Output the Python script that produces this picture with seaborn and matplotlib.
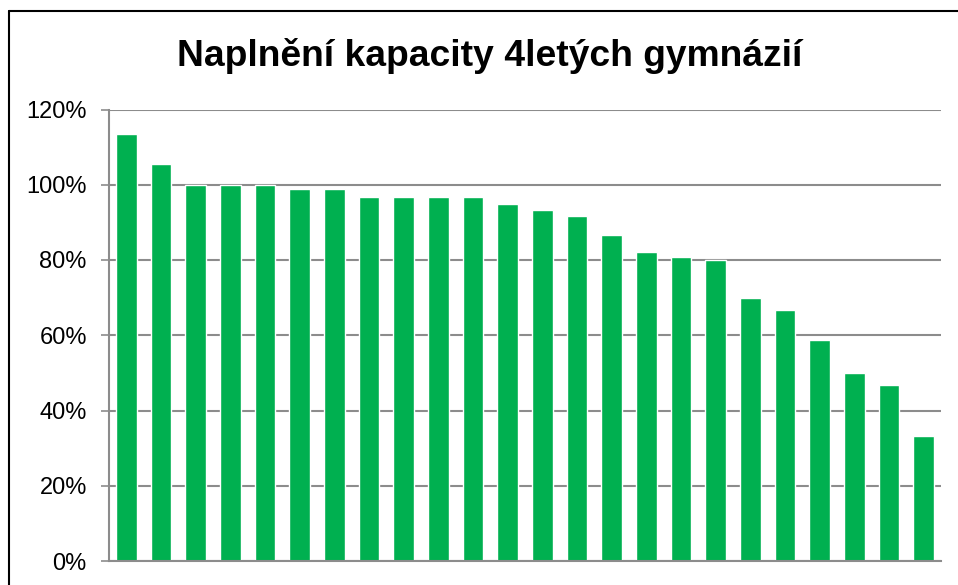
import matplotlib.pyplot as plt
import seaborn as sns
import pandas as pd
from matplotlib.lines import Line2D
from matplotlib.ticker import PercentFormatter

# naplnění kapacity (%) jednotlivých 4letých gymnázií, seřazeno sestupně
schools = [f"G{i}" for i in range(1, 25)]
fill_pct = [113.5, 105.5, 100.0, 100.0, 100.0, 99.0, 98.8, 96.7, 96.7, 96.7, 96.7, 94.9,
            93.3, 91.7, 86.7, 82.1, 80.8, 80.0, 70.0, 66.7, 58.8, 50.0, 46.8, 33.3]
y_ticks = [0, 20, 40, 60, 80, 100, 120]

df = pd.DataFrame({"school": schools, "fill": fill_pct})

sns.set_style("white")
plt.rcParams["font.family"] = ["Liberation Sans", "DejaVu Sans"]
plt.rcParams["text.color"] = "black"

fig = plt.figure(figsize=(9.58, 5.85), dpi=100)
ax = fig.add_axes([109 / 958, 24 / 585, (941 - 109) / 958, (561 - 109.5) / 585])

sns.barplot(data=df, x="school", y="fill", color="#00B050", saturation=1,
            width=0.6, ax=ax)

ax.set_ylim(0, 120)
ax.set_xlim(-0.5, len(schools) - 0.5)
ax.set_yticks(y_ticks)
ax.yaxis.set_major_formatter(PercentFormatter(decimals=0))
ax.grid(axis="y", color="#8c8c8c", linewidth=1.5)
ax.set_axisbelow(True)
ax.set_xlabel("")
ax.set_ylabel("")
ax.set_xticks([])
ax.tick_params(axis="y", labelsize=17, labelcolor="black", length=6, width=1.2,
               color="#8c8c8c", pad=10, left=True)

for side in ["top", "right"]:
    ax.spines[side].set_visible(False)
for side in ["left", "bottom"]:
    ax.spines[side].set_color("#8c8c8c")
    ax.spines[side].set_linewidth(1.5)

fig.text(490 / 958, 1 - 56 / 585, "Naplnění kapacity 4letých gymnázií",
         ha="center", va="center", fontsize=26.8, fontweight="bold", color="black")

# rámeček grafu (vidět jen levý a horní okraj)
fig.add_artist(Line2D([8.5 / 958, 8.5 / 958], [0, 1 - 11 / 585], color="black", lw=1.5))
fig.add_artist(Line2D([8.5 / 958, 1], [1 - 11 / 585, 1 - 11 / 585], color="black", lw=1.5))

fig.savefig("out.png", dpi=100)
